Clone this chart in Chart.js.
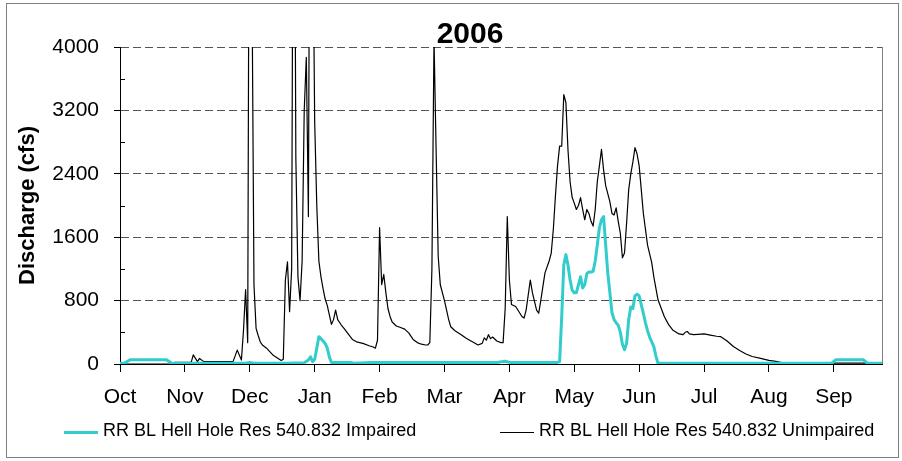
<!DOCTYPE html>
<html>
<head>
<meta charset="utf-8">
<title>2006 Discharge</title>
<script src="https://cdn.jsdelivr.net/npm/chart.js@4/dist/chart.umd.min.js"></script>
<style>
  html, body { margin: 0; padding: 0; background: #fff; }
</style>
</head>
<body>
<canvas id="flowChart" width="902" height="461"></canvas>
<script>
const chartTitle = "2006";
const yAxisTitle = "Discharge (cfs)";

// x axis is water-year day (Oct 1 = 0), ticks every 31 days like the original sheet
const monthLabels = ["Oct", "Nov", "Dec", "Jan", "Feb", "Mar", "Apr", "May", "Jun", "Jul", "Aug", "Sep"];
const monthTickDays = [0, 31, 62, 93, 124, 155, 186, 217, 248, 279, 310, 341];

const impairedLabel = "RR BL Hell Hole Res 540.832 Impaired";
const impairedDays = [0, 2, 5, 22, 25, 40, 60, 62, 64, 80, 88, 90, 91, 92, 93, 94, 95, 96, 97, 98, 99, 100, 101, 110, 112, 120, 180, 184, 186, 209, 210, 211, 212, 213, 214, 215, 216, 217, 218, 219, 220, 221, 222, 223, 224, 225, 226, 227, 228, 229, 230, 231, 232, 233, 234, 235, 236, 237, 238, 239, 240, 241, 242, 243, 244, 245, 246, 247, 248, 249, 250, 251, 252, 253, 254, 255, 256, 257, 340, 342, 355, 357, 364];
const impairedCfs = [10, 10, 55, 55, 5, 10, 10, 20, 10, 10, 15, 50, 90, 30, 60, 200, 345, 320, 290, 260, 200, 90, 20, 20, 10, 20, 20, 35, 20, 20, 30, 600, 1250, 1380, 1250, 1060, 930, 900, 900, 1000, 1100, 960, 1000, 1140, 1160, 1160, 1170, 1300, 1500, 1720, 1820, 1860, 1500, 1150, 900, 650, 560, 520, 490, 400, 250, 180, 260, 560, 720, 700, 860, 880, 860, 750, 640, 520, 420, 340, 280, 220, 100, 10, 10, 55, 55, 10, 10];

const unimpairedLabel = "RR BL Hell Hole Res 540.832 Unimpaired";
const unimpairedDays = [0, 24, 26, 34, 35, 37, 38, 40, 54, 56, 58, 59, 60, 61, 62, 63, 64, 65, 66, 67, 68, 70, 73, 75, 77, 78, 79, 80, 81, 82, 83, 84, 85, 86, 87, 88, 89, 90, 91, 92, 93, 94, 95, 96, 97, 98, 99, 100, 101, 102, 103, 104, 105, 106, 107, 109, 111, 113, 116, 119, 121, 122, 123, 124, 125, 126, 127, 128, 129, 130, 132, 134, 136, 138, 140, 142, 144, 146, 147, 148, 149, 150, 151, 152, 153, 155, 157, 158, 160, 163, 165, 167, 169, 171, 173, 174, 175, 176, 177, 178, 180, 182, 183, 184, 185, 186, 187, 189, 192, 193, 194, 196, 197, 199, 200, 201, 203, 205, 206, 207, 208, 209, 210, 211, 212, 213, 214, 215, 216, 217, 218, 219, 220, 221, 222, 223, 224, 225, 226, 227, 228, 229, 230, 231, 232, 233, 234, 235, 236, 237, 238, 239, 240, 241, 242, 243, 244, 245, 246, 247, 248, 249, 250, 251, 252, 254, 255, 257, 260, 262, 264, 267, 269, 270, 271, 272, 274, 276, 279, 282, 285, 287, 290, 293, 296, 299, 302, 306, 310, 314, 319, 322, 364];
const unimpairedCfs = [0, 0, 20, 20, 115, 30, 70, 30, 30, 175, 50, 430, 940, 270, 9000, 5000, 1000, 450, 360, 280, 240, 200, 115, 80, 45, 60, 1060, 1290, 660, 1200, 9000, 2600, 1100, 800, 1300, 3200, 3870, 1860, 9000, 6000, 3050, 2000, 1300, 1100, 950, 820, 740, 620, 500, 560, 680, 560, 520, 480, 450, 380, 310, 280, 260, 230, 215, 200, 300, 1720, 1000, 1130, 900, 700, 600, 530, 480, 460, 440, 390, 310, 270, 250, 240, 240, 270, 1200, 4100, 2700, 1360, 1000, 800, 560, 470, 420, 370, 330, 300, 270, 240, 260, 330, 300, 370, 320, 340, 290, 270, 270, 700, 1860, 1060, 750, 725, 600, 580, 680, 1060, 900, 680, 640, 800, 1150, 1300, 1400, 1700, 2120, 2500, 2750, 2750, 3400, 3300, 2700, 2300, 2100, 2030, 1950, 2000, 2100, 1950, 1820, 1950, 1900, 1800, 1740, 1950, 2300, 2500, 2710, 2450, 2250, 2150, 2050, 1900, 1880, 1970, 1800, 1650, 1340, 1400, 1780, 2200, 2400, 2550, 2730, 2650, 2500, 2200, 1900, 1700, 1500, 1280, 1100, 810, 600, 500, 430, 380, 370, 400, 410, 380, 370, 375, 380, 365, 350, 345, 290, 220, 170, 127, 95, 70, 45, 30, 0, 10, 10];

const FONT = "Arial, 'Liberation Sans', sans-serif";
Chart.defaults.font.family = FONT;
Chart.defaults.color = "#000";

const toPoints = (days, values) => days.map((d, i) => ({ x: d, y: values[i] }));

// title, legend, frame and the small inner ticks, drawn like the old spreadsheet chart
const chartDecor = {
    id: "chartDecor",
    afterDraw(chart) {
        const { ctx, chartArea: area, scales } = chart;
        ctx.save();

        ctx.strokeStyle = "#000";
        ctx.lineWidth = 1;
        ctx.beginPath();
        for (let v = 400; v < 4000; v += 800) {
            const y = Math.round(scales.y.getPixelForValue(v)) + 0.5;
            ctx.moveTo(area.left, y);
            ctx.lineTo(area.left + 5, y);
        }
        ctx.stroke();

        ctx.strokeStyle = "#808080";
        ctx.beginPath();
        ctx.moveTo(Math.round(area.right) + 0.5, area.top);
        ctx.lineTo(Math.round(area.right) + 0.5, area.bottom);
        ctx.stroke();
        ctx.strokeRect(6.5, 3.5, 892, 454);

        ctx.fillStyle = "#000";
        ctx.font = "bold 30px " + FONT;
        ctx.textAlign = "center";
        ctx.textBaseline = "alphabetic";
        ctx.fillText(chartTitle, 470, 43);

        const legendX = [64, 500];
        const legendY = 432.5;
        ctx.font = "18px " + FONT;
        ctx.textAlign = "left";
        ctx.textBaseline = "middle";
        chart.data.datasets.forEach((ds, i) => {
            ctx.strokeStyle = ds.borderColor;
            ctx.lineWidth = ds.borderWidth;
            ctx.beginPath();
            ctx.moveTo(legendX[i], legendY);
            ctx.lineTo(legendX[i] + 34, legendY);
            ctx.stroke();
            ctx.fillText(ds.label, legendX[i] + 39, legendY - 1);
        });

        ctx.restore();
    },
};

new Chart(document.getElementById("flowChart"), {
    type: "line",
    data: {
        datasets: [
            {
                label: impairedLabel,
                data: toPoints(impairedDays, impairedCfs),
                borderColor: "#33CCCC",
                borderWidth: 3,
            },
            {
                label: unimpairedLabel,
                data: toPoints(unimpairedDays, unimpairedCfs),
                borderColor: "#000000",
                borderWidth: 1.2,
            },
        ],
    },
    options: {
        responsive: false,
        animation: false,
        devicePixelRatio: 1,
        layout: {
            padding: { left: 0, right: 20, top: 47, bottom: 47 },
        },
        elements: {
            point: { radius: 0 },
            line: { tension: 0, fill: false, borderJoinStyle: "round" },
        },
        plugins: {
            legend: { display: false },
            title: { display: false },
            tooltip: { enabled: false },
        },
        scales: {
            x: {
                type: "linear",
                min: 0,
                max: 364,
                afterBuildTicks: (scale) => {
                    scale.ticks = monthTickDays.map((v) => ({ value: v }));
                },
                afterFit: (scale) => {
                    scale.height = 50;
                },
                ticks: {
                    callback: (value, index) => monthLabels[index],
                    autoSkip: false,
                    maxRotation: 0,
                    padding: 13,
                    font: { size: 21 },
                },
                grid: {
                    drawOnChartArea: false,
                    tickLength: 8,
                    tickColor: "#000",
                },
                border: { color: "#000", width: 1 },
            },
            y: {
                min: 0,
                max: 4000,
                afterFit: (scale) => {
                    scale.width = 120;
                },
                ticks: {
                    stepSize: 800,
                    padding: 15,
                    font: { size: 21 },
                    callback: (value) => String(value),
                },
                grid: {
                    color: (ctx) => (ctx.tick && ctx.tick.value === 0 ? "rgba(0,0,0,0)" : "#555"),
                    tickLength: 6,
                    tickColor: "#000",
                },
                border: { color: "#000", width: 1, dash: [8, 4] },
                title: {
                    display: true,
                    text: yAxisTitle,
                    font: { size: 22, weight: "bold" },
                    padding: { top: 15, bottom: 0 },
                },
            },
        },
    },
    plugins: [chartDecor],
});
</script>
</body>
</html>
